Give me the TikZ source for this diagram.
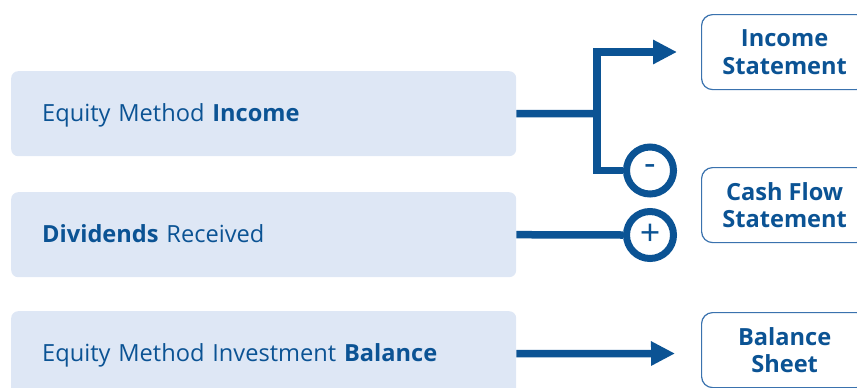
\documentclass[tikz,border=0pt]{standalone}
\usepackage{fontspec}
\setmainfont{Open Sans}
\usetikzlibrary{arrows.meta}
\definecolor{navy}{HTML}{0B5394}
\definecolor{boxfill}{HTML}{DEE7F5}
\definecolor{edgeblue}{HTML}{3A72AE}

\begin{document}
\begin{tikzpicture}[x=1bp,y=-1bp,
  srcbox/.style={fill=boxfill, rounded corners=7bp, minimum width=505bp,
    minimum height=85bp, text width=443bp, inner xsep=31bp, inner ysep=0pt,
    text height=20bp, text depth=4.4bp,
    align=left, text=navy, font=\fontsize{23.7}{28}\selectfont, anchor=north west},
  dstbox/.style={draw=edgeblue, line width=1.2bp, fill=white, rounded corners=11bp,
    minimum width=166bp, minimum height=75bp, inner sep=0pt, align=center,
    text=navy, font=\fontsize{23.7}{28}\selectfont\bfseries, anchor=north west},
  flow/.style={draw=navy, line width=7.5bp},
  arr/.style={flow, -{Triangle[length=24bp,width=23bp]}},
  sign/.style={circle, draw=navy, line width=7bp, fill=white, minimum size=47bp,
    inner sep=0pt, text=navy, font=\fontsize{36}{36}\selectfont}]

  \useasboundingbox (0,0) rectangle (857,387);
  \clip (0,0) rectangle (857,387);

  % source boxes
  \node[srcbox] (em) at (11,71) {Equity Method \textbf{Income}};
  \node[srcbox] (dr) at (11,192) {\textbf{Dividends} Received};
  \node[srcbox] (eb) at (11,311) {Equity Method Investment \textbf{Balance}};

  % statement boxes
  \node[dstbox] (is) at (701,14) {Income\\Statement};
  \node[dstbox] (cf) at (701,167) {Cash Flow\\Statement};
  \node[dstbox] (bs) at (701,312) {Balance\\Sheet};

  % cash-flow adjustment markers
  \node[sign] (minus) at (650,170.5) {-};
  \node[sign] (plus) at (650,235) {+};

  % connectors
  \coordinate (j) at (597,113.5);
  \coordinate (itip) at (677,52);
  \coordinate (btip) at (675,353.5);

  \draw[flow] (em.east) -- (j);
  \draw[arr] (minus.west) -| (j |- itip) -- (itip);
  \draw[flow] (dr.east) -- (plus.west);
  \draw[arr] (eb.east) -- (btip);
\end{tikzpicture}
\end{document}
